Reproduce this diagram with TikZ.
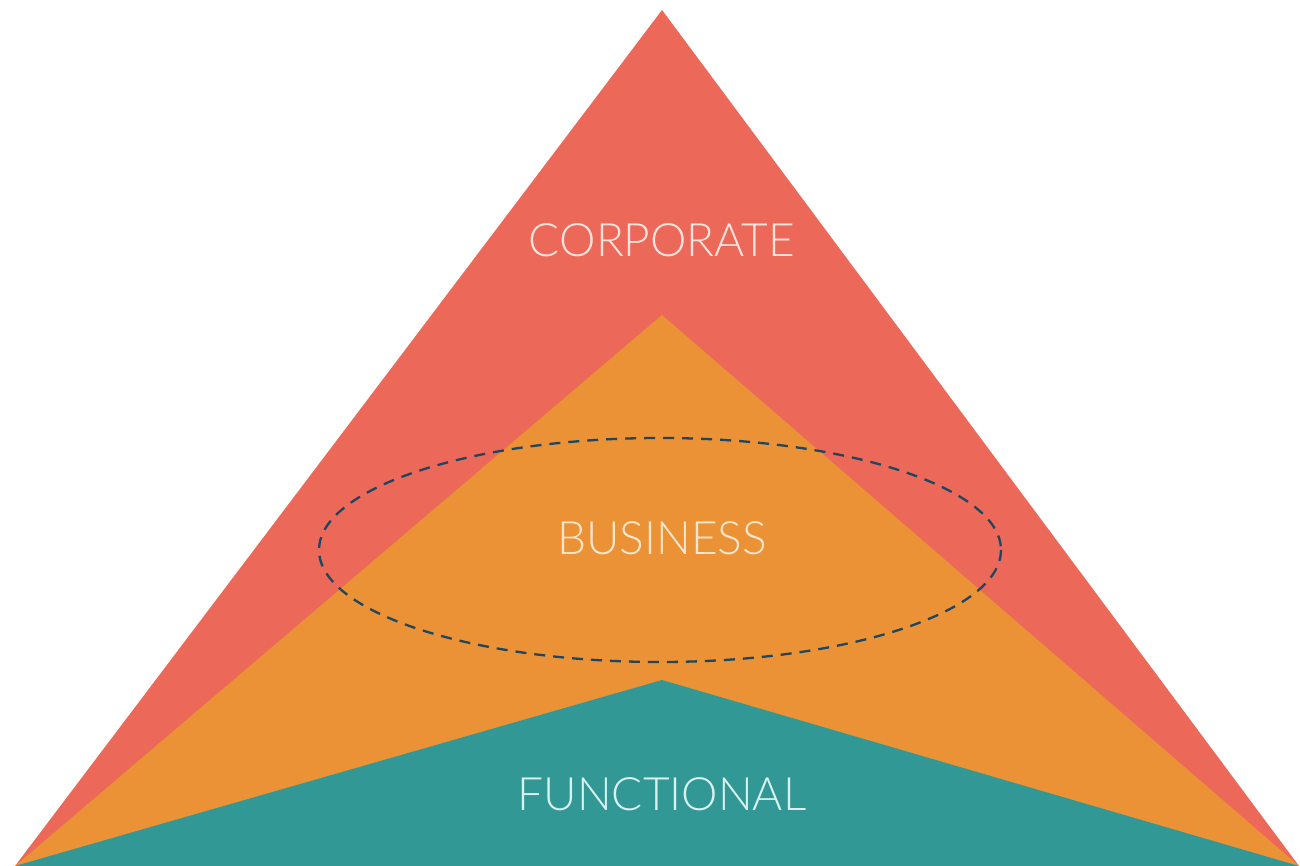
\documentclass[tikz,border=0pt]{standalone}
\usepackage{fontspec}
\setmainfont{Lato}[UprightFont={* Light}]
\definecolor{cred}{HTML}{EC6959}
\definecolor{corange}{HTML}{EA9235}
\definecolor{cteal}{HTML}{329895}
\definecolor{cdash}{HTML}{1E4660}
\definecolor{tred}{HTML}{FCE3DC}
\definecolor{torange}{HTML}{FBE6CC}
\definecolor{tteal}{HTML}{D9F2EF}
\tikzset{
  lbl/.style={font=\fontsize{46}{48}\selectfont, inner sep=0pt, anchor=center},
}
\begin{document}
\begin{tikzpicture}[x=1pt,y=-1pt]
\useasboundingbox (0,0) rectangle (1300,866);
\coordinate (bl) at (15,866);
\coordinate (br) at (1299,866);
\coordinate (a1) at (662,10);
\coordinate (a2) at (662,315);
\coordinate (a3) at (662,680);
\fill[cred] (bl) -- (a1) -- (br) -- cycle;
\fill[corange] (bl) -- (a2) -- (br) -- cycle;
\fill[cteal] (bl) -- (a3) -- (br) -- cycle;
\node[lbl, text=tred] (corp) at (662,240) {CORPORATE};
\node[lbl, text=torange] (bus) at (662,538) {BUSINESS};
\node[lbl, text=tteal] (func) at (662,794) {FUNCTIONAL};
\draw[cdash, line width=2.3pt, dash pattern=on 11pt off 8pt] (660,550) ellipse [x radius=341, y radius=112];
\end{tikzpicture}
\end{document}
